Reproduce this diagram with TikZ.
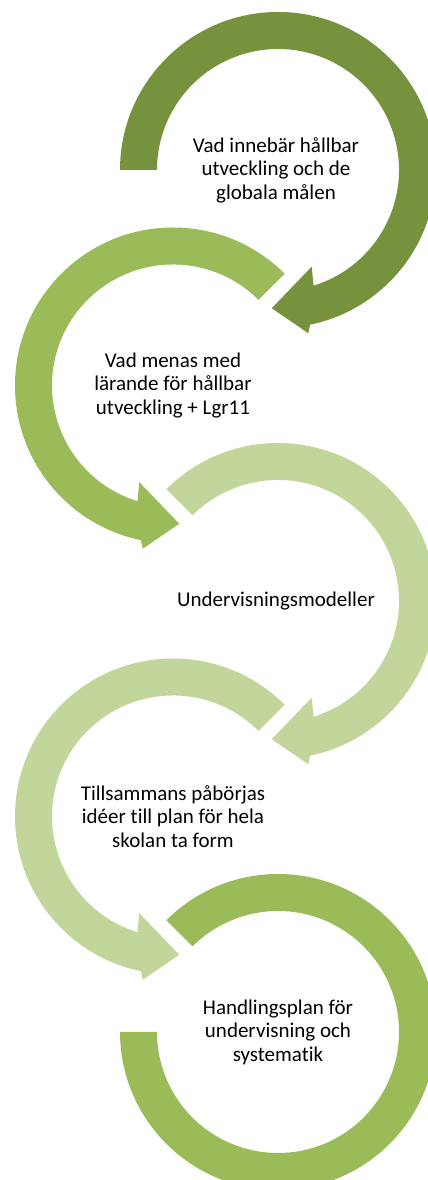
\documentclass[tikz,border=0pt]{standalone}
\usepackage{fontspec}
\setmainfont{Carlito}[Ligatures=NoCommon]
\usepackage{xcolor}
\definecolor{olivedark}{HTML}{76923C}
\definecolor{olivemid}{HTML}{9BBB59}
\definecolor{olivelight}{HTML}{C2D69B}
\tikzset{phasetext/.style={align=center, text=black, font=\fontsize{21}{23.5}\selectfont}}
\newcommand\cwphase[6]{
  \begin{scope}[xshift=#1, yshift=#2]
      \fill[#4] (#3:158pt) arc[start angle=#3, end angle=-78.3, radius=158pt] -- (-79.5:166pt) -- (-92.6:138.4pt) -- (-70.8:102.4pt) -- (-72.9:121pt) arc[start angle=-72.9, end angle=#3, radius=121pt] -- cycle;
      \node[phasetext] (#5txt) at (-2pt, 0pt) {#6};
  \end{scope}
}
\newcommand\ccwphase[6]{
  \begin{scope}[xshift=#1, yshift=#2]
      \fill[#4] (#3:158pt) arc[start angle=#3, end angle=258.3, radius=158pt] -- (259.5:166pt) -- (272.6:138.4pt) -- (250.8:102.4pt) -- (252.9:121pt) arc[start angle=252.9, end angle=#3, radius=121pt] -- cycle;
      \node[phasetext] (#5txt) at (0pt, 0pt) {#6};
  \end{scope}
}

\begin{document}
\begin{tikzpicture}
    \useasboundingbox (0pt, 0pt) rectangle (428pt, 1180pt);
    \clip (0pt, 0pt) rectangle (428pt, 1180pt);
    \cwphase{278pt}{1010pt}{180}{olivedark}{p1}{Vad innebär hållbar\\utveckling och de\\globala målen}
    \ccwphase{173pt}{794.5pt}{45}{olivemid}{p2}{Vad menas med\\lärande för hållbar\\utveckling + Lgr11}
    \cwphase{278pt}{579pt}{135}{olivelight}{p3}{Undervisningsmodeller}
    \ccwphase{173pt}{363.5pt}{45}{olivelight}{p4}{Tillsammans påbörjas\\idéer till plan för hela\\skolan ta form}

    % last phase: plain ring, no head
    \begin{scope}[xshift=278pt, yshift=148pt]
      \fill[olivemid] (135:158pt) arc[start angle=135, end angle=-180, radius=158pt] -- (180:121pt) arc[start angle=-180, end angle=135, radius=121pt] -- cycle;
      \node[phasetext] (p5txt) at (0pt, 0pt) {Handlingsplan för\\undervisning och\\systematik};
    \end{scope}
\end{tikzpicture}
\end{document}
